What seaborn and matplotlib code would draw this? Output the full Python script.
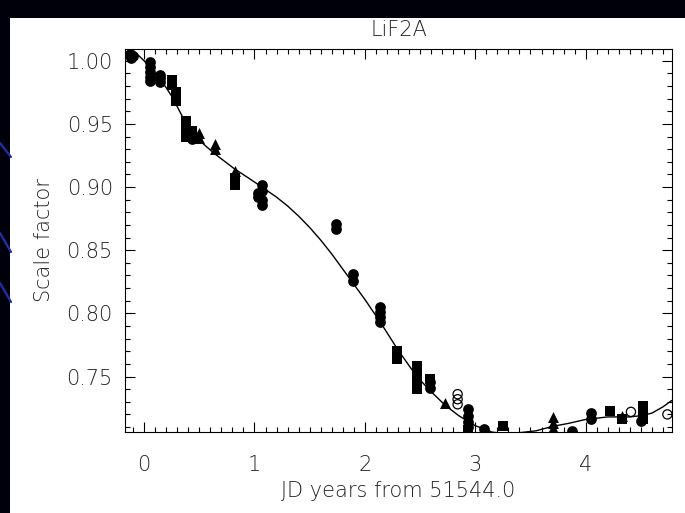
import numpy as np
import pandas as pd
import matplotlib
matplotlib.use("Agg")
import matplotlib.pyplot as plt
import seaborn as sns
from matplotlib.patches import Rectangle
from matplotlib.lines import Line2D
from matplotlib.ticker import MultipleLocator, FixedLocator, FixedFormatter

# ---------------- data ----------------
title_text = "LiF2A"
x_label = "JD years from 51544.0"
y_label = "Scale factor"
x_ticks = [0, 1, 2, 3, 4]
x_tick_labels = ["0", "1", "2", "3", "4"]
y_ticks = [0.75, 0.80, 0.85, 0.90, 0.95, 1.00]
y_tick_labels = ["0.75", "0.80", "0.85", "0.90", "0.95", "1.00"]

circle_x = [-0.13, -0.10, -0.12,
            0.05, 0.05, 0.05, 0.05, 0.05,
            0.14, 0.14, 0.14,
            0.43,
            1.03, 1.03, 1.07, 1.07, 1.07, 1.07,
            1.74, 1.74,
            1.89, 1.89,
            2.14, 2.14, 2.14, 2.14,
            2.59, 2.59,
            2.93, 2.93, 2.93, 2.93,
            3.08,
            3.88,
            4.05, 4.05,
            4.50]
circle_y = [1.005, 1.004, 1.002,
            0.999, 0.995, 0.991, 0.987, 0.984,
            0.989, 0.986, 0.983,
            0.938,
            0.895, 0.892, 0.902, 0.897, 0.890, 0.886,
            0.871, 0.867,
            0.831, 0.826,
            0.805, 0.801, 0.797, 0.793,
            0.746, 0.741,
            0.724, 0.719, 0.714, 0.710,
            0.7085,
            0.7065,
            0.721, 0.716,
            0.715]

square_x = [0.25, 0.25,
            0.29, 0.29, 0.29,
            0.38, 0.38, 0.38,
            0.43, 0.43,
            0.825, 0.825,
            2.29, 2.29,
            2.47, 2.47, 2.47, 2.47,
            2.59,
            2.93,
            3.25,
            4.22,
            4.33,
            4.52, 4.52, 4.52]
square_y = [0.985, 0.981,
            0.975, 0.971, 0.968,
            0.952, 0.946, 0.940,
            0.944, 0.940,
            0.907, 0.902,
            0.770, 0.764,
            0.758, 0.752, 0.746, 0.740,
            0.748,
            0.708,
            0.711,
            0.723,
            0.716,
            0.727, 0.721, 0.716]

triangle_x = [0.50, 0.50,
              0.64, 0.64,
              0.825,
              2.73,
              3.70, 3.70, 3.70,
              4.33]
triangle_y = [0.943, 0.939,
              0.934, 0.930,
              0.913,
              0.729,
              0.718, 0.713, 0.709,
              0.719]

open_x = [2.84, 2.84, 2.84, 4.41, 4.74]
open_y = [0.736, 0.732, 0.728, 0.722, 0.720]

fit_x = [-0.17, -0.06, 0.00, 0.08, 0.16, 0.25, 0.34, 0.42, 0.50, 0.63,
         0.81, 1.00, 1.10, 1.20, 1.30, 1.40, 1.50, 1.60, 1.70, 1.80,
         1.90, 2.00, 2.14, 2.30, 2.47, 2.60, 2.73, 2.85, 3.00, 3.10,
         3.15, 3.30, 3.45, 3.55, 3.70, 3.85, 4.00, 4.10, 4.20, 4.30,
         4.40, 4.50, 4.60, 4.70, 4.78]
fit_y = [1.014, 1.005, 1.000, 0.992, 0.984, 0.972, 0.957, 0.945, 0.937, 0.927,
         0.915, 0.904, 0.898, 0.892, 0.885, 0.877, 0.868, 0.858, 0.847, 0.835,
         0.823, 0.811, 0.793, 0.771, 0.750, 0.738, 0.727, 0.719, 0.711, 0.708,
         0.706, 0.7045, 0.706, 0.707, 0.7105, 0.713, 0.716, 0.717, 0.718, 0.718,
         0.718, 0.719, 0.721, 0.726, 0.731]

# ---------------- figure ----------------
sns.set_style("white")
plt.rcParams["font.family"] = ["DejaVu Sans"]

W, H = 685, 513
fig = plt.figure(figsize=(W / 100, H / 100), dpi=100, facecolor="#00000a")
fig.patches.append(Rectangle((10 / W, 0), 1 - 10 / W, 1 - 18 / H,
                             transform=fig.transFigure, facecolor="white",
                             edgecolor="none", zorder=-10))
# decorative blue slide arcs in the dark margin
for (x0, y0, x1, y1) in [(0, 143, 11, 157), (0, 233, 11, 252), (0, 283, 11, 302)]:
    fig.lines.append(Line2D([x0 / W, x1 / W], [1 - y0 / H, 1 - y1 / H],
                            transform=fig.transFigure, color="#1f2fb0", lw=1.6))

left, right, top, bottom = 125.3, 671.8, 49.0, 431.7
ax = fig.add_axes([left / W, 1 - bottom / H, (right - left) / W, (bottom - top) / H])
ax.set_facecolor("white")

sns.lineplot(x=fit_x, y=fit_y, sort=False, estimator=None, color="black",
             lw=1.0, ax=ax, zorder=2)
sns.scatterplot(x=circle_x, y=circle_y, marker="o", color="black", s=60,
                linewidth=0, ax=ax, zorder=3)
sns.scatterplot(x=square_x, y=square_y, marker="s", color="black", s=56,
                linewidth=0, ax=ax, zorder=3)
sns.scatterplot(x=triangle_x, y=triangle_y, marker="^", color="black", s=62,
                linewidth=0, ax=ax, zorder=3)
sns.scatterplot(x=open_x, y=open_y, marker="o", facecolor="none",
                edgecolor="black", s=44, linewidth=0.9, ax=ax, zorder=3)

ax.set_xlim(-0.17, 4.78)
ax.set_ylim(0.7063, 1.0093)

ax.xaxis.set_major_locator(FixedLocator(x_ticks))
ax.xaxis.set_major_formatter(FixedFormatter(x_tick_labels))
ax.yaxis.set_major_locator(FixedLocator(y_ticks))
ax.yaxis.set_major_formatter(FixedFormatter(y_tick_labels))
ax.xaxis.set_minor_locator(MultipleLocator(0.1))
ax.yaxis.set_minor_locator(MultipleLocator(0.01))

txt_color = "#222222"
ax.tick_params(which="both", direction="in", top=True, right=True,
               bottom=True, left=True,
               color="black", width=0.8, labelcolor=txt_color, labelsize=15)
ax.tick_params(which="major", length=7)
ax.tick_params(which="minor", length=3.5)
ax.tick_params(axis="y", which="major", pad=9)
ax.tick_params(axis="x", which="major", pad=17)
for lab in ax.get_xticklabels() + ax.get_yticklabels():
    lab.set_fontweight(200)

for sp in ax.spines.values():
    sp.set_color("black")
    sp.set_linewidth(0.8)

ax.set_xlabel(x_label, fontsize=15, color=txt_color, fontweight=200)
ax.xaxis.set_label_coords(0.5, -0.13)
ax.set_ylabel(y_label, fontsize=15, color=txt_color, fontweight=200)
ax.yaxis.set_label_coords(-0.13, 0.5)
ax.set_title(title_text, fontsize=15, color=txt_color, pad=9, fontweight=200)

fig.savefig("out.png", dpi=100, facecolor=fig.get_facecolor())
